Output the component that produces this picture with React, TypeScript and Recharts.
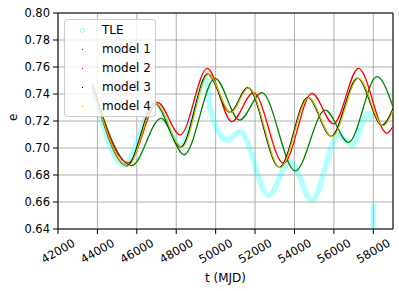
import { LineChart, Line, XAxis, YAxis, CartesianGrid, ReferenceLine } from 'recharts';

// #region Sample data
const xTicks = [42000, 44000, 46000, 48000, 50000, 52000, 54000, 56000, 58000];
const yTicks = [0.64, 0.66, 0.68, 0.7, 0.72, 0.74, 0.76, 0.78, 0.8];

const seriesNames = ['TLE', 'model 1', 'model 2', 'model 3', 'model 4'];

const tleT = [43700, 45350, 46950, 48200, 49500, 49720, 50140, 50570, 51245, 52680, 53780, 54885, 56240, 56920, 57760, 57930];
const tleE = [0.747, 0.6874, 0.733, 0.702, 0.751, 0.7306, 0.712, 0.706, 0.712, 0.665, 0.69, 0.6615, 0.7096, 0.7022, 0.7257, 0.7207];

// the late TLE points stacked near t = 58000
const tleTailT = [58000, 58000];
const tleTailE = [0.6585, 0.64];

const model1T = [43750, 45740, 47230, 48400, 49975, 51210, 52345, 54040, 55560, 56745, 58185, 59000];
const model1E = [0.746, 0.687, 0.722, 0.695, 0.7516, 0.7207, 0.741, 0.683, 0.728, 0.7042, 0.7528, 0.7306];

const model2T = [43750, 45570, 47060, 48200, 49580, 50820, 51920, 53445, 54885, 55980, 57250, 58690, 59000];
const model2E = [0.747, 0.689, 0.7336, 0.7096, 0.759, 0.7195, 0.741, 0.6886, 0.7405, 0.7178, 0.759, 0.711, 0.716];

const model3T = [43750, 45500, 46910, 48240, 49600, 50730, 51630, 53240, 54680, 55860, 57210, 58450, 59000];
const model3E = [0.746, 0.6868, 0.7332, 0.7008, 0.7548, 0.7264, 0.7448, 0.6856, 0.7375, 0.7086, 0.7518, 0.7168, 0.729];

const model4T = [43750, 45540, 46950, 48280, 49635, 50770, 51665, 53275, 54715, 55900, 57250, 58490, 59000];
const model4E = [0.746, 0.6867, 0.733, 0.7005, 0.7546, 0.7262, 0.7447, 0.6854, 0.7373, 0.7084, 0.7516, 0.7165, 0.728];
// #endregion

const pairs = (ts: number[], es: number[]) => ts.map((t, i) => ({ t, e: es[i] }));

const tle = pairs(tleT, tleE);
const tleTail = pairs(tleTailT, tleTailE);
const model1 = pairs(model1T, model1E);
const model2 = pairs(model2T, model2E);
const model3 = pairs(model3T, model3E);
const model4 = pairs(model4T, model4E);

const colors = ['#00ffff', '#008000', '#ff0000', '#000000', '#bfbf00'];
const font = 'DejaVu Sans, sans-serif';

const XTick = (props: any) => {
  const { x, y, payload } = props;
  return (
    <g transform={`translate(${x},${y + 15}) rotate(-30)`}>
      <text textAnchor="middle" dy="0.35em" fontSize={11.5} fill="#000" fontFamily={font}>
        {payload.value}
      </text>
    </g>
  );
};

const LegendBox = () => (
  <div
    style={{
      position: 'absolute',
      left: 64,
      top: 19,
      width: 90,
      height: 96,
      border: '1px solid #cccccc',
      borderRadius: 3,
      background: 'rgba(255,255,255,0.8)',
      fontFamily: font,
      fontSize: 12,
    }}
  >
    {seriesNames.map((name, i) => (
      <div key={name} style={{ position: 'absolute', left: 0, top: 1 + i * 19, height: 19, width: 90 }}>
        {i === 0 ? (
          <span
            style={{
              position: 'absolute',
              left: 15,
              top: 7,
              width: 3,
              height: 3,
              borderRadius: '50%',
              border: '1px solid rgba(0,255,255,0.5)',
            }}
          />
        ) : (
          <span style={{ position: 'absolute', left: 17, top: 9, width: 1, height: 1, background: colors[i] }} />
        )}
        <span style={{ position: 'absolute', left: 37, top: 2, color: '#000', whiteSpace: 'nowrap' }}>{name}</span>
      </div>
    ))}
  </div>
);

const App = () => {
  return (
    <div style={{ position: 'absolute', left: 0, top: 0, width: 399, height: 291, background: '#fff' }}>
      <LineChart width={399} height={291} margin={{ top: 13, right: 6, left: 0, bottom: 0 }}>
        <CartesianGrid stroke="#b0b0b0" strokeWidth={1} />
        <XAxis
          type="number"
          dataKey="t"
          domain={[42000, 59000]}
          ticks={xTicks}
          interval={0}
          allowDataOverflow
          height={62}
          stroke="#000"
          tickSize={5}
          tick={<XTick />}
          label={{ value: 't (MJD)', position: 'insideBottom', offset: 9, fontSize: 12, fill: '#000', fontFamily: font }}
        />
        <YAxis
          type="number"
          domain={[0.64, 0.8]}
          ticks={yTicks}
          interval={0}
          allowDataOverflow
          width={58}
          stroke="#000"
          tickSize={5}
          tickMargin={3}
          tickFormatter={(v: number) => v.toFixed(2)}
          tick={{ fontSize: 11.5, fill: '#000', fontFamily: font }}
          label={{
            value: 'e',
            angle: -90,
            position: 'insideLeft',
            offset: 13,
            fontSize: 12,
            fill: '#000',
            fontFamily: font,
          }}
        />
        <ReferenceLine x={59000} stroke="#000" strokeWidth={1} ifOverflow="extendDomain" />
        <ReferenceLine y={0.8} stroke="#000" strokeWidth={1} ifOverflow="extendDomain" />
        <Line data={tle} dataKey="e" name="TLE" type="monotone" stroke={colors[0]} strokeOpacity={0.3} strokeWidth={5.5} dot={false} isAnimationActive={false} />
        <Line data={tleTail} dataKey="e" name="TLE tail" type="linear" stroke={colors[0]} strokeOpacity={0.3} strokeWidth={5.5} dot={false} legendType="none" isAnimationActive={false} />
        <Line data={model1} dataKey="e" name="model 1" type="monotone" stroke={colors[1]} strokeWidth={1.3} dot={false} isAnimationActive={false} />
        <Line data={model2} dataKey="e" name="model 2" type="monotone" stroke={colors[2]} strokeWidth={1.3} dot={false} isAnimationActive={false} />
        <Line data={model3} dataKey="e" name="model 3" type="monotone" stroke={colors[3]} strokeWidth={1.3} dot={false} isAnimationActive={false} />
        <Line data={model4} dataKey="e" name="model 4" type="monotone" stroke={colors[4]} strokeWidth={1.3} dot={false} isAnimationActive={false} />
      </LineChart>
      <LegendBox />
    </div>
  );
};

export default App;
